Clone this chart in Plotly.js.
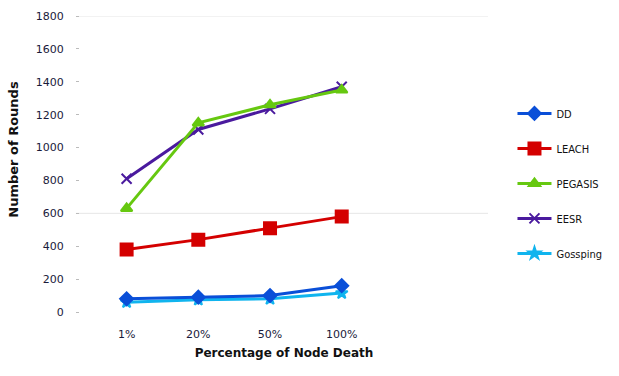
<!DOCTYPE html>
<html>
<head>
<meta charset="utf-8">
<script src="https://cdn.plot.ly/plotly-3.0.1.min.js"></script>
<style>html,body{margin:0;padding:0;background:#fff;}#chart{width:619px;height:376px;}</style>
</head>
<body>
<div id="chart"></div>
<script>
const categories = ["1%", "20%", "50%", "100%"];
const seriesNames = ["DD", "LEACH", "PEGASIS", "EESR", "Gossping"];
const ddValues = [80, 90, 100, 160];
const leachValues = [380, 440, 510, 580];
const pegasisValues = [630, 1150, 1260, 1350];
const eesrValues = [810, 1110, 1235, 1370];
const gossipingValues = [60, 75, 80, 115];
const yTicks = [0, 200, 400, 600, 800, 1000, 1200, 1400, 1600, 1800];

const styles = [
  {color: "#0a4fd8", symbol: "diamond", size: 10},
  {color: "#d40000", symbol: "square", size: 12},
  {color: "#66c810", symbol: "triangle-up", size: 10},
  {color: "#4a1a9e", symbol: "x-thin-open", size: 10},
  {color: "#10b4ee", symbol: "star", size: 9}
];
const values = [ddValues, leachValues, pegasisValues, eesrValues, gossipingValues];

const order = [4, 0, 1, 3, 2];
const traces = order.map(i => ({
  x: categories,
  y: values[i],
  name: seriesNames[i],
  legendgroup: "g" + i,
  legendrank: i + 1,
  type: "scatter",
  mode: "lines+markers",
  line: {color: styles[i].color, width: 3},
  marker: {color: styles[i].color, symbol: styles[i].symbol, size: styles[i].size,
           line: {color: styles[i].color, width: 2}}
}));

const layout = {
  width: 619, height: 376,
  margin: {l: 80, r: 129, t: 16, b: 64},
  paper_bgcolor: "#fff", plot_bgcolor: "#fff",
  font: {family: "DejaVu Sans, sans-serif", size: 11, color: "#1a1a3a"},
  showlegend: true,
  legend: {x: 1.06, y: 0.72, xanchor: "left", yanchor: "top",
           traceorder: "grouped", tracegroupgap: 16, itemwidth: 34,
           font: {family: "DejaVu Sans Condensed, sans-serif", size: 11, color: "#111"}},
  xaxis: {
    type: "category", range: [-0.65, 5.04],
    showgrid: false, zeroline: false, showline: false, ticks: "",
    ticklabelstandoff: 14,
    tickfont: {size: 11, color: "#1a1a3a"},
    title: {text: "<b>Percentage of Node Death</b>", font: {size: 12, color: "#111"}, standoff: 8}
  },
  yaxis: {
    range: [0, 1800], tickvals: yTicks,
    showgrid: false, zeroline: false, showline: false,
    ticks: "outside", ticklen: 3, tickcolor: "#bbb",
    ticklabelstandoff: 10,
    tickfont: {size: 11, color: "#1a1a3a"}
  },
  annotations: [{
    text: "<b>Number of Rounds</b>", textangle: -90,
    xref: "paper", yref: "paper", x: -0.163, y: 0.55, xanchor: "center", yanchor: "middle",
    showarrow: false, font: {size: 13, color: "#111"}
  }],
  shapes: [1800, 600].map(v => ({type: "line", xref: "paper", yref: "y", x0: -0.01, x1: 1, y0: v, y1: v,
    line: {color: "#e6e6e6", width: 1}, layer: "below"}))
};

Plotly.newPlot("chart", traces, layout, {displayModeBar: false, staticPlot: true});
</script>
</body>
</html>
